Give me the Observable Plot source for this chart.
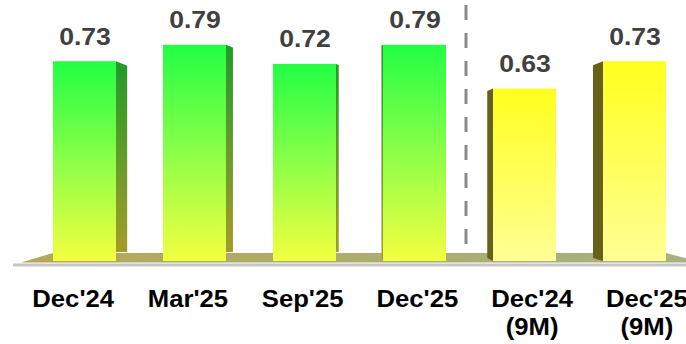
<!DOCTYPE html>
<html>
<head>
<meta charset="utf-8">
<script src="https://cdn.jsdelivr.net/npm/d3@7"></script>
<script src="https://cdn.jsdelivr.net/npm/@observablehq/plot@0.6"></script>
<style>
  html, body { margin: 0; padding: 0; background: #fff; }
  #chart svg { display: block; }
</style>
</head>
<body>
<div id="chart"></div>
<script>
// ---- data ----
const categories = ["Dec'24", "Mar'25", "Sep'25", "Dec'25", "Dec'24\n(9M)", "Dec'25\n(9M)"];
const values = [0.73, 0.79, 0.72, 0.79, 0.63, 0.73];
const groups = ["quarter", "quarter", "quarter", "quarter", "nine", "nine"];

const data = categories.map((c, i) => ({cat: c, value: values[i], group: groups[i]}));
const quarter = data.filter(d => d.group === "quarter");
const nine = data.filter(d => d.group === "nine");

const FONT = "'Liberation Sans', Arial, Helvetica, sans-serif";
const VP = 375, K = 0.0385; // pseudo-perspective for side faces

function bandwidthOf(scales) {
  const x = scales.x;
  if (x && typeof x.bandwidth === "function") return x.bandwidth();
  if (x && typeof x.bandwidth === "number") return x.bandwidth;
  return scales.scales.x.bandwidth;
}

// custom mark helper using Plot scales
function custom(fn) {
  return Plot.barY(data, {x: "cat", y: "value", render: (index, scales, vals, dims, ctx) => fn(scales, dims, ctx)});
}

// horizontally stretch the text glyphs (the reference font is a little wide)
function stretchText(g, sx) {
  g.querySelectorAll("text").forEach(t => {
    const tr = t.getAttribute("transform") || "";
    t.setAttribute("transform", tr + ` scale(${sx},1)`);
  });
  return g;
}

const floorMark = custom((scales) => {
  const bw = bandwidthOf(scales);
  const y0 = scales.y(0);
  const xs = scales.x(categories[0]);
  const xe = scales.x(categories[categories.length - 1]) + bw;
  const g = d3.create("svg:g");
  g.append("polygon")
    .attr("points", [[xs - 32, y0 + 1.5], [xs, y0 - 8], [xe, y0 - 8], [xe + 36, y0 + 1.5]].map(p => p.join(",")).join(" "))
    .attr("fill", "url(#floorGrad)");
  return g.node();
});

const sideMark = custom((scales) => {
  const bw = bandwidthOf(scales);
  const y0 = scales.y(0);
  const g = d3.create("svg:g");
  for (const d of data) {
    const x0 = scales.x(d.cat);
    const cx = x0 + bw / 2;
    const dx = (VP - cx) * K;
    if (Math.abs(dx) < 0.8) continue;
    const edge = dx > 0 ? x0 + bw : x0;
    const yt = scales.y(d.value);
    const dy = Math.abs(dx) * 0.4;
    const pts = dx > 0
      ? [[edge, yt], [edge + dx, yt + dy], [edge + dx, y0 - 9], [edge, y0 - 9]]
      : [[edge, yt], [edge + dx, yt + dy], [edge + dx, y0 - 3], [edge, y0]];
    g.append("polygon")
      .attr("points", pts.map(p => p.join(",")).join(" "))
      .attr("fill", d.group === "quarter" ? "url(#greenSide)" : "#676018");
  }
  return g.node();
});

const dividerMark = custom((scales) => {
  const bw = bandwidthOf(scales);
  const xa = scales.x(categories[3]) + bw;
  const xb = scales.x(categories[4]);
  const xm = (xa + xb) / 2 - 3.5;
  const g = d3.create("svg:g");
  g.append("line")
    .attr("x1", xm).attr("x2", xm)
    .attr("y1", scales.y(0.935)).attr("y2", scales.y(0.022))
    .attr("stroke", "#8a8a8a").attr("stroke-width", 3)
    .attr("stroke-dasharray", "15,13");
  return g.node();
});

const chart = Plot.plot({
  width: 686,
  height: 344,
  marginTop: 1,
  marginBottom: 83,
  marginLeft: 13,
  marginRight: 0,
  style: {background: "#fff", fontFamily: FONT},
  x: {domain: categories, range: [4.6, 713.8], padding: 0.43, axis: null},
  y: {domain: [0, 0.95], axis: null},
  marks: [
    dividerMark,
    Plot.ruleY([0], {dy: 3.5, stroke: "#c6c6c6", strokeWidth: 3}),
    floorMark,
    sideMark,
    Plot.barY(quarter, {x: "cat", y: "value", fill: "url(#greenFront)"}),
    Plot.barY(nine, {x: "cat", y: "value", fill: "url(#yellowFront)"}),
    Plot.text(data, {
      x: "cat", y: "value", text: d => d.value.toFixed(2),
      dy: -17, lineAnchor: "bottom", fontSize: 24.6, fontWeight: "bold", fill: "#404040", fontFamily: FONT,
      render: (index, scales, vals, dims, ctx, next) => stretchText(next(index, scales, vals, dims, ctx), 1.08)
    }),
    Plot.text(data, {
      x: "cat", y: () => 0, text: "cat",
      dy: 26, lineAnchor: "top", lineHeight: 1.167, fontSize: 24, fontWeight: "bold", fill: "#000", fontFamily: FONT,
      render: (index, scales, vals, dims, ctx, next) => {
        const X = Array.from(vals.x);
        const m = d3.mean(X);
        const X2 = X.map(x => x + (x - m) * 0.043);
        return stretchText(next(index, scales, {...vals, x: X2}, dims, ctx), 1.07);
      }
    })
  ]
});

// gradients
const svg = d3.select(chart);
const defs = svg.insert("defs", ":first-child");
function grad(id, stops, horizontal) {
  const lg = defs.append("linearGradient").attr("id", id)
    .attr("x1", 0).attr("y1", 0).attr("x2", horizontal ? 1 : 0).attr("y2", horizontal ? 0 : 1);
  for (const [o, c] of stops) lg.append("stop").attr("offset", o).attr("stop-color", c);
}
grad("greenFront", [[0, "#22ff44"], [0.5, "#8cff48"], [1, "#f4ff40"]]);
grad("yellowFront", [[0, "#ffff1e"], [1, "#ffff96"]]);
grad("greenSide", [[0, "#229a2a"], [1, "#a49c2a"]]);
grad("floorGrad", [[0, "#b3a858"], [1, "#a6b282"]], true);

document.getElementById("chart").appendChild(chart);
</script>
</body>
</html>
